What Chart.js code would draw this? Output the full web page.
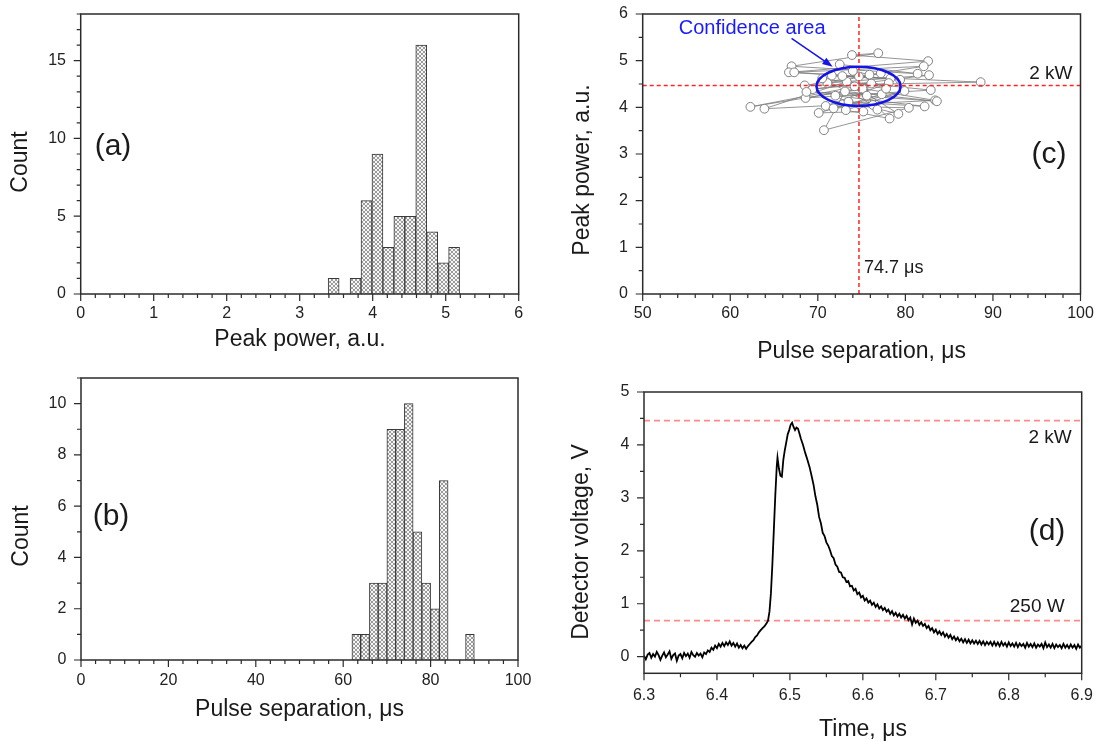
<!DOCTYPE html>
<html>
<head>
<meta charset="utf-8">
<script src="https://cdn.jsdelivr.net/npm/chart.js@4.4.1/dist/chart.umd.min.js"></script>
<style>
  body { margin: 0; background: #fff; }
  #fig { position: relative; width: 1097px; height: 742px; overflow: hidden; }
  #fig canvas { position: absolute; }
</style>
</head>
<body>
<div id="fig">
  <canvas id="chartA" width="548" height="370" style="left:0;top:0"></canvas>
  <canvas id="chartB" width="548" height="372" style="left:0;top:370px"></canvas>
  <canvas id="chartC" width="549" height="370" style="left:548px;top:0"></canvas>
  <canvas id="chartD" width="549" height="372" style="left:548px;top:370px"></canvas>
</div>
<script>
// (a) histogram of peak power (bin centres, bin width 0.15)
const powerBins = [3.465, 3.765, 3.915, 4.065, 4.215, 4.365, 4.515, 4.665, 4.815, 4.965, 5.115];
const powerCounts = [1, 1, 6, 9, 3, 5, 5, 16, 4, 2, 3];

// (b) histogram of pulse separation (bin centres, bin width 2)
const sepBins = [63, 65, 67, 69, 71, 73, 75, 77, 79, 81, 83, 89];
const sepCounts = [1, 1, 3, 3, 9, 9, 10, 5, 3, 2, 7, 1];

// (c) pulse-by-pulse sequence: separation (us) and peak power (a.u.)
const sepSeq = [72.5, 81.4, 67.0, 76.9, 73.9, 82.6, 66.7, 74.7, 82.1, 67.3,
  78.3, 71.6, 88.6, 68.5, 77.2, 71.1, 82.7, 69.4, 76.1, 62.3,
  75.1, 83.4, 63.9, 73.3, 82.9, 68.6, 78.1, 70.9, 80.4, 70.7,
  73.1, 83.6, 68.7, 77.3, 70.1, 75.2, 72.0, 82.2, 73.5, 79.2,
  74.2, 78.2, 73.2, 79.9, 71.8, 76.3, 70.5, 77.8, 74.0, 75.9,
  75.6, 76.8, 72.8, 79.4];
const powSeq = [4.92, 4.72, 4.88, 5.16, 5.12, 4.99, 4.75, 4.66, 4.88, 4.75,
  4.62, 4.68, 4.54, 4.47, 4.73, 4.52, 4.69, 4.39, 4.51, 4.01,
  4.40, 4.15, 3.97, 4.55, 4.37, 4.20, 4.52, 4.03, 3.99, 3.51,
  4.34, 4.13, 4.33, 4.28, 3.88, 3.91, 4.25, 4.02, 4.12, 3.86,
  4.45, 3.76, 3.94, 4.35, 3.98, 4.05, 4.62, 4.40, 4.78, 4.70,
  4.25, 3.95, 4.67, 4.59];
const sepMean = 74.7;
const powerMean = 4.47;
const confCenter = [74.65, 4.45];
const confRadius = [4.8, 0.42];
const arrowFrom = [67.0, 5.48];
const arrowTo = [71.7, 4.87];
const confLabelAt = [62.5, 5.7];

// (d) single pulse trace, in three pieces: baseline, rise/peak, decay
const baseTime = [
  6.3000, 6.3025, 6.3050, 6.3075, 6.3100, 6.3125, 6.3150, 6.3175, 6.3200, 6.3225,
  6.3250, 6.3275, 6.3300, 6.3325, 6.3350, 6.3375, 6.3400, 6.3425, 6.3450, 6.3475,
  6.3500, 6.3525, 6.3550, 6.3575, 6.3600, 6.3625, 6.3650, 6.3675, 6.3700, 6.3725,
  6.3750, 6.3775, 6.3800, 6.3825, 6.3850, 6.3875, 6.3900, 6.3925, 6.3950, 6.3975,
  6.4000, 6.4025, 6.4050, 6.4075, 6.4100, 6.4125, 6.4150, 6.4175, 6.4200, 6.4225,
  6.4250, 6.4275, 6.4300, 6.4325, 6.4350, 6.4375, 6.4400, 6.4425, 6.4450, 6.4475,
  6.4500, 6.4525, 6.4550, 6.4575, 6.4600, 6.4625, 6.4650];
const baseVolt = [
  0.02, -0.05, 0.04, 0.07, -0.02, 0.05, 0.00, 0.09, 0.03, -0.06,
  0.02, 0.08, -0.01, 0.04, 0.10, -0.04, 0.03, 0.06, -0.08, 0.02,
  0.05, -0.03, 0.07, 0.01, 0.06, -0.02, 0.09, 0.03, 0.00, 0.07,
  0.02, 0.06, -0.01, 0.08, 0.05, 0.12, 0.09, 0.17, 0.13, 0.21,
  0.16, 0.24, 0.19, 0.26, 0.20, 0.27, 0.22, 0.29, 0.21, 0.26,
  0.19, 0.25, 0.17, 0.22, 0.16, 0.21, 0.15, 0.20, 0.24, 0.28,
  0.31, 0.37, 0.40, 0.46, 0.50, 0.54, 0.57];
const peakTime = [
  6.468, 6.470, 6.472, 6.474, 6.476, 6.478, 6.480, 6.482, 6.483, 6.485,
  6.487, 6.489, 6.491, 6.493, 6.495, 6.497, 6.499, 6.501, 6.503, 6.505,
  6.507, 6.509, 6.511, 6.513, 6.515, 6.518, 6.521, 6.524, 6.527];
const peakVolt = [
  0.63, 0.68, 0.85, 1.20, 1.75, 2.40, 3.05, 3.60, 3.76, 3.55,
  3.42, 3.40, 3.72, 3.90, 4.05, 4.20, 4.28, 4.38, 4.42, 4.34,
  4.28, 4.33, 4.31, 4.22, 4.12, 4.00, 3.85, 3.72, 3.58];
const tailTime = [
  6.5300, 6.5325, 6.5350, 6.5375, 6.5400, 6.5425, 6.5450, 6.5475, 6.5500, 6.5525,
  6.5550, 6.5575, 6.5600, 6.5625, 6.5650, 6.5675, 6.5700, 6.5725, 6.5750, 6.5775,
  6.5800, 6.5825, 6.5850, 6.5875, 6.5900, 6.5925, 6.5950, 6.5975, 6.6000, 6.6025,
  6.6050, 6.6075, 6.6100, 6.6125, 6.6150, 6.6175, 6.6200, 6.6225, 6.6250, 6.6275,
  6.6300, 6.6325, 6.6350, 6.6375, 6.6400, 6.6425, 6.6450, 6.6475, 6.6500, 6.6525,
  6.6550, 6.6575, 6.6600, 6.6625, 6.6650, 6.6675, 6.6700, 6.6725, 6.6750, 6.6775,
  6.6800, 6.6825, 6.6850, 6.6875, 6.6900, 6.6925, 6.6950, 6.6975, 6.7000, 6.7025,
  6.7050, 6.7075, 6.7100, 6.7125, 6.7150, 6.7175, 6.7200, 6.7225, 6.7250, 6.7275,
  6.7300, 6.7325, 6.7350, 6.7375, 6.7400, 6.7425, 6.7450, 6.7475, 6.7500, 6.7525,
  6.7550, 6.7575, 6.7600, 6.7625, 6.7650, 6.7675, 6.7700, 6.7725, 6.7750, 6.7775,
  6.7800, 6.7825, 6.7850, 6.7875, 6.7900, 6.7925, 6.7950, 6.7975, 6.8000, 6.8025,
  6.8050, 6.8075, 6.8100, 6.8125, 6.8150, 6.8175, 6.8200, 6.8225, 6.8250, 6.8275,
  6.8300, 6.8325, 6.8350, 6.8375, 6.8400, 6.8425, 6.8450, 6.8475, 6.8500, 6.8525,
  6.8550, 6.8575, 6.8600, 6.8625, 6.8650, 6.8675, 6.8700, 6.8725, 6.8750, 6.8775,
  6.8800, 6.8825, 6.8850, 6.8875, 6.8900, 6.8925, 6.8950, 6.8975, 6.9000];
const tailVolt = [
  3.40, 3.24, 3.03, 2.87, 2.64, 2.52, 2.34, 2.28, 2.16, 2.10,
  2.01, 1.90, 1.86, 1.74, 1.70, 1.60, 1.59, 1.50, 1.49, 1.41,
  1.43, 1.33, 1.34, 1.25, 1.28, 1.18, 1.21, 1.12, 1.15, 1.06,
  1.10, 1.02, 1.06, 0.98, 1.02, 0.94, 0.99, 0.91, 0.95, 0.88,
  0.92, 0.85, 0.89, 0.81, 0.86, 0.78, 0.83, 0.76, 0.81, 0.74,
  0.79, 0.72, 0.77, 0.69, 0.74, 0.61, 0.72, 0.64, 0.68, 0.60,
  0.65, 0.58, 0.62, 0.54, 0.58, 0.50, 0.54, 0.46, 0.51, 0.43,
  0.48, 0.41, 0.46, 0.38, 0.43, 0.36, 0.41, 0.33, 0.38, 0.31,
  0.36, 0.29, 0.34, 0.27, 0.33, 0.26, 0.32, 0.25, 0.31, 0.25,
  0.30, 0.24, 0.30, 0.23, 0.29, 0.22, 0.28, 0.23, 0.28, 0.21,
  0.28, 0.21, 0.27, 0.20, 0.28, 0.21, 0.26, 0.19, 0.27, 0.20,
  0.25, 0.19, 0.26, 0.18, 0.25, 0.20, 0.24, 0.17, 0.26, 0.19,
  0.24, 0.18, 0.25, 0.17, 0.23, 0.19, 0.24, 0.16, 0.27, 0.18,
  0.23, 0.17, 0.24, 0.16, 0.23, 0.18, 0.22, 0.16, 0.24, 0.17,
  0.22, 0.16, 0.23, 0.17, 0.22, 0.15, 0.23, 0.17, 0.21];
const level2kW = 4.46;
const level250W = 0.68;

const FONT = '"Liberation Sans", Arial, sans-serif';
Chart.defaults.font.family = FONT;

function drawText(ctx, str, x, y, size, opts = {}) {
  ctx.save();
  ctx.font = size + "px " + FONT;
  ctx.fillStyle = opts.color || "#1a1a1a";
  ctx.textAlign = opts.align || "center";
  ctx.textBaseline = "middle";
  ctx.translate(x, y);
  if (opts.rotate) ctx.rotate(opts.rotate);
  ctx.fillText(str, 0, 0);
  ctx.restore();
}

// cross-hatch fill used by the histogram bars
function makeHatch() {
  const c = document.createElement("canvas");
  c.width = 4;
  c.height = 4;
  const g = c.getContext("2d");
  g.fillStyle = "#f6f6f6";
  g.fillRect(0, 0, 4, 4);
  g.strokeStyle = "#9c9c9c";
  g.lineWidth = 1;
  g.beginPath();
  g.moveTo(0, 0); g.lineTo(4, 4);
  g.moveTo(4, 0); g.lineTo(0, 4);
  g.stroke();
  return g.createPattern(c, "repeat");
}

function tickList(scale, major, sub) {
  const out = [];
  const step = major / sub;
  const start = Math.floor(scale.min / major) * major;
  for (let i = 0; ; i++) {
    const v = start + i * step;
    if (v > scale.max + 1e-9) break;
    if (v < scale.min - 1e-9) continue;
    out.push({ px: scale.getPixelForValue(v), major: i % sub === 0 });
  }
  return out;
}

// frame box, major/minor outward ticks, axis titles, panel label
function framePlugin(spec, extra) {
  return {
    id: "frame",
    afterDatasetsDraw(chart) {
      const { ctx, chartArea: a, scales } = chart;
      if (extra) extra(chart);
      ctx.save();
      ctx.strokeStyle = "#2b2b2b";
      ctx.lineWidth = 1.5;
      ctx.strokeRect(a.left, a.top, a.right - a.left, a.bottom - a.top);
      ctx.lineWidth = 1.2;
      ctx.beginPath();
      tickList(scales.x, spec.x.major, spec.x.sub).forEach(t => {
        ctx.moveTo(t.px, a.bottom);
        ctx.lineTo(t.px, a.bottom + (t.major ? 7 : 4));
      });
      tickList(scales.y, spec.y.major, spec.y.sub).forEach(t => {
        ctx.moveTo(a.left, t.px);
        ctx.lineTo(a.left - (t.major ? 7 : 4), t.px);
      });
      ctx.stroke();
      ctx.restore();

      drawText(ctx, spec.x.title, spec.x.titleAt[0], spec.x.titleAt[1], 23);
      drawText(ctx, spec.y.title, spec.y.titleAt[0], spec.y.titleAt[1], 23, { rotate: -Math.PI / 2 });
      drawText(ctx, spec.label[0], spec.label[1], spec.label[2], 30);
    }
  };
}

function scaleOpts(ax, horizontal) {
  const ticks = { stepSize: ax.major, includeBounds: false, padding: ax.pad, color: "#222", font: { size: 16 } };
  if (ax.fmt) ticks.callback = ax.fmt;
  return {
    type: "linear",
    min: ax.min,
    max: ax.max,
    offset: false,
    grid: { display: false, drawTicks: false },
    border: { display: false },
    ticks,
    title: { display: false },
    afterFit(s) {
      if (horizontal) {
        s.height = ax.size;
        s.paddingLeft = 0;
        s.paddingRight = 0;
      } else {
        s.width = ax.size;
        s.paddingTop = 0;
        s.paddingBottom = 0;
      }
    }
  };
}

function makeChart(id, type, datasets, spec, extra) {
  const ctx = document.getElementById(id).getContext("2d");
  return new Chart(ctx, {
    type,
    data: { datasets },
    options: {
      responsive: false,
      animation: false,
      devicePixelRatio: 1,
      events: [],
      layout: { padding: { left: 0, bottom: 0, top: spec.top, right: spec.right } },
      plugins: { legend: { display: false }, tooltip: { enabled: false } },
      scales: { x: scaleOpts(spec.x, true), y: scaleOpts(spec.y, false) }
    },
    plugins: [framePlugin(spec, extra)]
  });
}

const hatch = makeHatch();

function barSet(bins, counts) {
  return {
    data: bins.map((b, i) => ({ x: b, y: counts[i] })),
    backgroundColor: hatch,
    borderColor: "#3a3a3a",
    borderWidth: 1,
    barPercentage: 1,
    categoryPercentage: 1
  };
}

function dashed(points, color, width, dash) {
  return { data: points, showLine: true, borderColor: color, borderWidth: width, borderDash: dash, pointRadius: 0, order: 0 };
}

// (a)
makeChart("chartA", "bar", [barSet(powerBins, powerCounts)], {
  top: 14, right: 29.3,
  x: { min: 0, max: 6, major: 1, sub: 5, pad: 10.4, size: 76, title: "Peak power, a.u.", titleAt: [300, 340] },
  y: { min: 0, max: 18, major: 5, sub: 5, pad: 14.7, size: 80.7, title: "Count", titleAt: [21, 162] },
  label: ["(a)", 113, 147]
});

// (b)
makeChart("chartB", "bar", [barSet(sepBins, sepCounts)], {
  top: 8, right: 30,
  x: { min: 0, max: 100, major: 20, sub: 6, pad: 11, size: 82, title: "Pulse separation, \u03bcs", titleAt: [299.5, 340] },
  y: { min: 0, max: 11, major: 2, sub: 2, pad: 14.7, size: 81, title: "Count", titleAt: [22, 166] },
  label: ["(b)", 111, 147]
});

// (c)
makeChart("chartC", "scatter", [
  dashed([{ x: sepMean, y: 0 }, { x: sepMean, y: 6 }], "#ff2424", 1.5, [4, 3]),
  dashed([{ x: 50, y: powerMean }, { x: 100, y: powerMean }], "#ff2424", 1.5, [4, 3]),
  {
    data: sepSeq.map((s, i) => ({ x: s, y: powSeq[i] })),
    showLine: true, borderColor: "#7a7a7a", borderWidth: 0.8,
    pointRadius: 4.4, pointBackgroundColor: "#fff", pointBorderColor: "#808080", pointBorderWidth: 1, order: 1
  }
], {
  top: 14, right: 16.5,
  x: { min: 50, max: 100, major: 10, sub: 5, pad: 10.4, size: 76, title: "Pulse separation, \u03bcs", titleAt: [313.6, 352] },
  y: { min: 0, max: 6, major: 1, sub: 2, pad: 14.7, size: 94.7, title: "Peak power, a.u.", titleAt: [35, 170] },
  label: ["(c)", 501, 155]
}, chart => {
  const { ctx, chartArea: a, scales: { x, y } } = chart;
  const cx = x.getPixelForValue(confCenter[0]);
  const cy = y.getPixelForValue(confCenter[1]);
  const rx = x.getPixelForValue(confCenter[0] + confRadius[0]) - cx;
  const ry = cy - y.getPixelForValue(confCenter[1] + confRadius[1]);
  ctx.save();
  ctx.strokeStyle = "#1414e6";
  ctx.lineWidth = 2.6;
  ctx.beginPath();
  ctx.ellipse(cx, cy, rx, ry, 0, 0, Math.PI * 2);
  ctx.stroke();

  // arrow from the label to the ellipse
  const x0 = x.getPixelForValue(arrowFrom[0]), y0 = y.getPixelForValue(arrowFrom[1]);
  const x1 = x.getPixelForValue(arrowTo[0]), y1 = y.getPixelForValue(arrowTo[1]);
  const ang = Math.atan2(y1 - y0, x1 - x0);
  ctx.lineWidth = 1.5;
  ctx.beginPath();
  ctx.moveTo(x0, y0);
  ctx.lineTo(x1 - 8 * Math.cos(ang), y1 - 8 * Math.sin(ang));
  ctx.stroke();
  ctx.fillStyle = "#1414e6";
  ctx.beginPath();
  ctx.moveTo(x1, y1);
  ctx.lineTo(x1 - 11 * Math.cos(ang - 0.35), y1 - 11 * Math.sin(ang - 0.35));
  ctx.lineTo(x1 - 11 * Math.cos(ang + 0.35), y1 - 11 * Math.sin(ang + 0.35));
  ctx.closePath();
  ctx.fill();
  ctx.restore();

  drawText(ctx, "Confidence area", x.getPixelForValue(confLabelAt[0]), y.getPixelForValue(confLabelAt[1]), 20, { color: "#1a1aff" });
  drawText(ctx, "2 kW", a.right - 8, y.getPixelForValue(powerMean) - 12, 19, { align: "right" });
  drawText(ctx, "74.7 \u03bcs", x.getPixelForValue(sepMean) + 5, a.bottom - 26, 18, { align: "left" });
});

// (d)
const pulseTime = baseTime.concat(peakTime, tailTime);
const pulseVolt = baseVolt.concat(peakVolt, tailVolt);

makeChart("chartD", "scatter", [
  {
    data: pulseTime.map((t, i) => ({ x: t, y: pulseVolt[i] })),
    showLine: true, borderColor: "#000", borderWidth: 1.8, pointRadius: 0, order: 0
  },
  Object.assign(dashed([{ x: 6.3, y: level2kW }, { x: 6.9, y: level2kW }], "#ff8a8a", 1.8, [6, 4]), { order: 1 }),
  Object.assign(dashed([{ x: 6.3, y: level250W }, { x: 6.9, y: level250W }], "#ff8a8a", 1.8, [6, 4]), { order: 1 })
], {
  top: 22, right: 15.3,
  x: { min: 6.3, max: 6.9, major: 0.1, sub: 2, pad: 12.6, size: 68.7, fmt: v => v.toFixed(1), title: "Time, \u03bcs", titleAt: [315, 360] },
  y: { min: -0.314, max: 5, major: 1, sub: 2, pad: 14.7, size: 96, title: "Detector voltage, V", titleAt: [33.5, 172] },
  label: ["(d)", 499, 162]
}, chart => {
  const { ctx, chartArea: a, scales: { y } } = chart;
  drawText(ctx, "2 kW", a.right - 10, y.getPixelForValue(level2kW) + 17, 19, { align: "right" });
  drawText(ctx, "250 W", a.right - 17, y.getPixelForValue(level250W) - 14, 19, { align: "right" });
});
</script>
</body>
</html>
